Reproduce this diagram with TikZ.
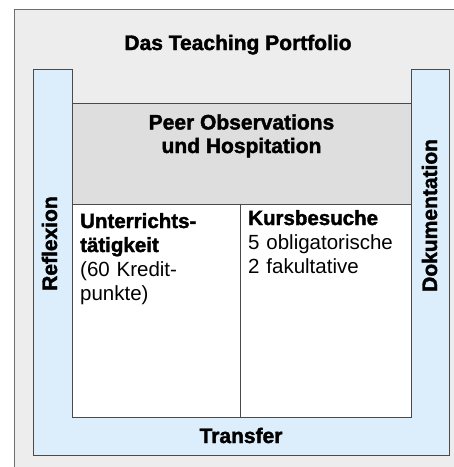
\documentclass[tikz,border=0pt]{standalone}
\usepackage{fontspec}
\setmainfont{Liberation Sans}[BoldFeatures={FakeBold=1.8}]
\usetikzlibrary{positioning}
\definecolor{pagegray}{HTML}{EDEDED}
\definecolor{framegray}{HTML}{6E6E6E}
\definecolor{linegray}{HTML}{4A4A4A}
\definecolor{ublue}{HTML}{DCEDFB}
\definecolor{peergray}{HTML}{DEDEDE}
\newcommand{\bodysize}{\fontsize{20.5}{24}\selectfont\setlength{\lineskiplimit}{-20pt}}
\tikzset{panel/.style={draw=linegray, line width=1pt, inner sep=0pt, anchor=north west}}
\tikzset{headtext/.style={font=\fontsize{21}{23.5}\selectfont\bfseries, inner sep=0pt}}
\tikzset{bodytext/.style={font=\bodysize, inner sep=0pt,
    text width=158pt, align=left, anchor=base west}}

\begin{document}
\begin{tikzpicture}[x=1pt, y=-1pt]
    \useasboundingbox (0,0) rectangle (454,467);
    \clip (0,0) rectangle (454,467);

    % frame runs off the right and bottom edge
    \draw[fill=pagegray, draw=framegray, line width=1pt] (14,9) rectangle (480,490);
    % blue U round the middle
    \draw[fill=ublue, draw=linegray, line width=1pt] (33,69) -- (72,69) -- (72,417)
        -- (411,417) -- (411,69) -- (449,69) -- (449,455) -- (33,455) -- cycle;

    \node[panel, fill=peergray, minimum width=339pt, minimum height=101pt] (peer) at (72,103) {};
    \node[panel, fill=white, minimum width=168pt, minimum height=213pt] (lehre) at (72,204) {};
    \node[panel, fill=white, minimum width=171pt, minimum height=213pt] (kurs) at (240,204) {};

    \node[headtext, anchor=base] (title) at (238,50) {Das Teaching Portfolio};
    \node[headtext, anchor=base, align=center] (peertitle) at (241.5,153) {Peer Observations\\und Hospitation};
    \node[headtext, anchor=base] (transfer) at (241,443) {Transfer};
    \node[headtext, rotate=90, anchor=base west] (reflexion) at (57,291) {Reflexion};
    \node[headtext, rotate=90, anchor=base west] (doku) at (437,292) {Dokumentation};

    \node[bodytext] (lehretext) at (80,228) {\textbf{Unterrichts-}\\\textbf{tätigkeit}\\(60 Kredit-\\punkte)};
    \node[bodytext] (kurstext) at (248,225) {\textbf{Kursbesuche}\\5 obligatorische\\2 fakultative};
\end{tikzpicture}
\end{document}
